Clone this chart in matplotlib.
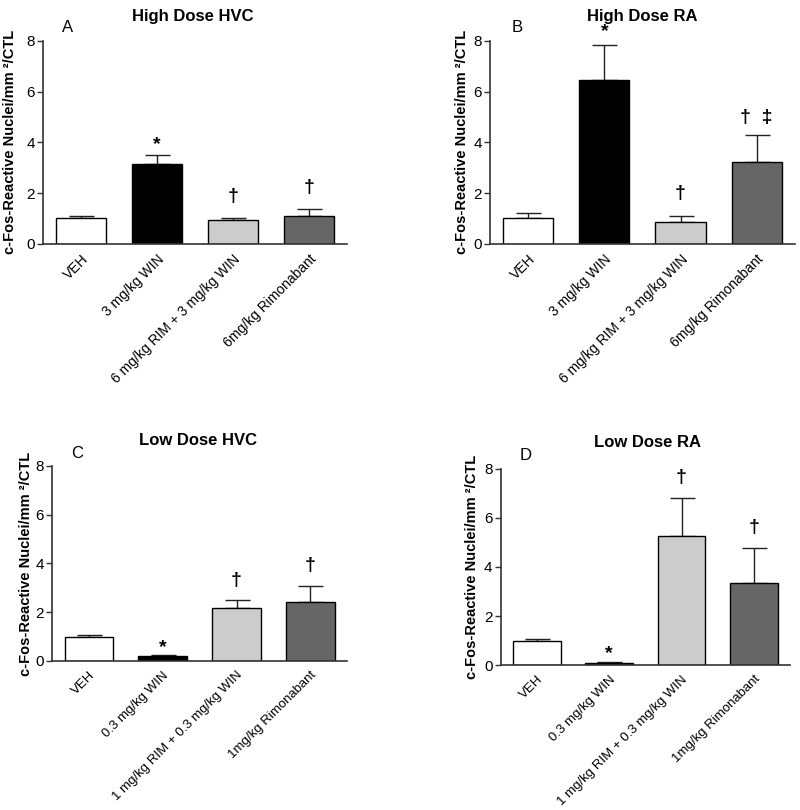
import matplotlib
matplotlib.use("Agg")
import matplotlib.pyplot as plt

plt.rcParams['font.family'] = ['Liberation Sans', 'DejaVu Sans']

labels_high = ["VEH", "3 mg/kg WIN", "6 mg/kg RIM + 3 mg/kg WIN", "6mg/kg Rimonabant"]
labels_low = ["VEH", "0.3 mg/kg WIN", "1 mg/kg RIM + 0.3 mg/kg WIN", "1mg/kg Rimonabant"]

hvc_high = [1.0, 3.15, 0.92, 1.10]
hvc_high_err = [0.08, 0.35, 0.11, 0.28]
ra_high = [1.0, 6.45, 0.87, 3.23]
ra_high_err = [0.22, 1.37, 0.23, 1.04]
hvc_low = [1.0, 0.20, 2.18, 2.43]
hvc_low_err = [0.07, 0.04, 0.34, 0.64]
ra_low = [1.0, 0.08, 5.28, 3.33]
ra_low_err = [0.08, 0.03, 1.55, 1.44]

sig_hvc_high = ["", "*", "†", "†"]
sig_ra_high = ["", "*", "†", "†  ‡"]
sig_hvc_low = ["", "*", "†", "†"]
sig_ra_low = ["", "*", "†", "†"]

sig_y_hvc_high = [None, 3.9, 1.85, 2.2]
sig_y_ra_high = [None, 8.35, 1.97, 4.96]
sig_y_hvc_low = [None, 0.53, 3.3, 3.93]
sig_y_ra_low = [None, 0.45, 7.67, 5.6]

colors = ["white", "black", "#cccccc", "#666666"]

panels = [
    dict(pos=[0.054, 0.699, 0.380, 0.2506], title="High Dose HVC", letter="A",
         vals=hvc_high, err=hvc_high_err, labels=labels_high, sig=sig_hvc_high, sy=sig_y_hvc_high,
         title_xy=(193, 17), letter_xy=(68, 28), ylab_x=10, lab_fs=10),
    dict(pos=[0.6125, 0.699, 0.381, 0.2506], title="High Dose RA", letter="B",
         vals=ra_high, err=ra_high_err, labels=labels_high, sig=sig_ra_high, sy=sig_y_ra_high,
         title_xy=(642, 17), letter_xy=(517, 27), ylab_x=462, lab_fs=10),
    dict(pos=[0.065, 0.184, 0.369, 0.2407], title="Low Dose HVC", letter="C",
         vals=hvc_low, err=hvc_low_err, labels=labels_low, sig=sig_hvc_low, sy=sig_y_hvc_low,
         title_xy=(198, 441), letter_xy=(77, 453), ylab_x=26, lab_fs=9.5),
    dict(pos=[0.626, 0.179, 0.3615, 0.242], title="Low Dose RA", letter="D",
         vals=ra_low, err=ra_low_err, labels=labels_low, sig=sig_ra_low, sy=sig_y_ra_low,
         title_xy=(648, 442), letter_xy=(526, 455), ylab_x=472, lab_fs=9.5),
]

W, H = 800, 810
fig = plt.figure(figsize=(8, 8.1), dpi=100)
spine_col = "#333333"

for p in panels:
    ax = fig.add_axes(p["pos"])
    x = list(range(len(p["vals"])))
    ax.bar(x, p["vals"], width=0.66, color=colors, edgecolor="black", linewidth=1.0, zorder=2)
    ax.errorbar(x, p["vals"], yerr=[[0]*4, p["err"]], fmt="none", ecolor="#222222",
                elinewidth=1.0, capsize=9, capthick=1.0, zorder=1)
    for xi, s, yy in zip(x, p["sig"], p["sy"]):
        if s:
            fs = 14 if s == "*" else 14
            ax.text(xi, yy, s, ha="center", va="center", fontsize=fs, color="black",
                    fontweight="bold")
    ax.set_ylim(0, 8)
    ax.set_xlim(-0.5, 3.5)
    ax.set_yticks([0, 2, 4, 6, 8])
    ax.set_xticks(x)
    ax.set_xticklabels(p["labels"], rotation=45, ha="right", rotation_mode="anchor",
                       fontsize=p["lab_fs"])
    ax.tick_params(axis="x", length=0, pad=6)
    ax.tick_params(axis="y", length=4, width=1, color=spine_col, labelsize=11, direction="out", pad=2)
    for s in ["top", "right"]:
        ax.spines[s].set_visible(False)
    for s in ["left", "bottom"]:
        ax.spines[s].set_color(spine_col)
        ax.spines[s].set_linewidth(1.2)
    fig.text(p["title_xy"][0] / W, 1 - p["title_xy"][1] / H, p["title"], ha="center", va="center",
             fontsize=12, fontweight="bold")
    fig.text(p["letter_xy"][0] / W, 1 - p["letter_xy"][1] / H, p["letter"], ha="center", va="center",
             fontsize=12)
    bb = p["pos"]
    fig.text(p["ylab_x"] / W, bb[1] + bb[3] / 2, "c-Fos-Reactive Nuclei/mm \u00b2/CTL",
             rotation=90, ha="center", va="center", fontsize=10.5, fontweight="bold")

fig.savefig("out.png", dpi=100)
